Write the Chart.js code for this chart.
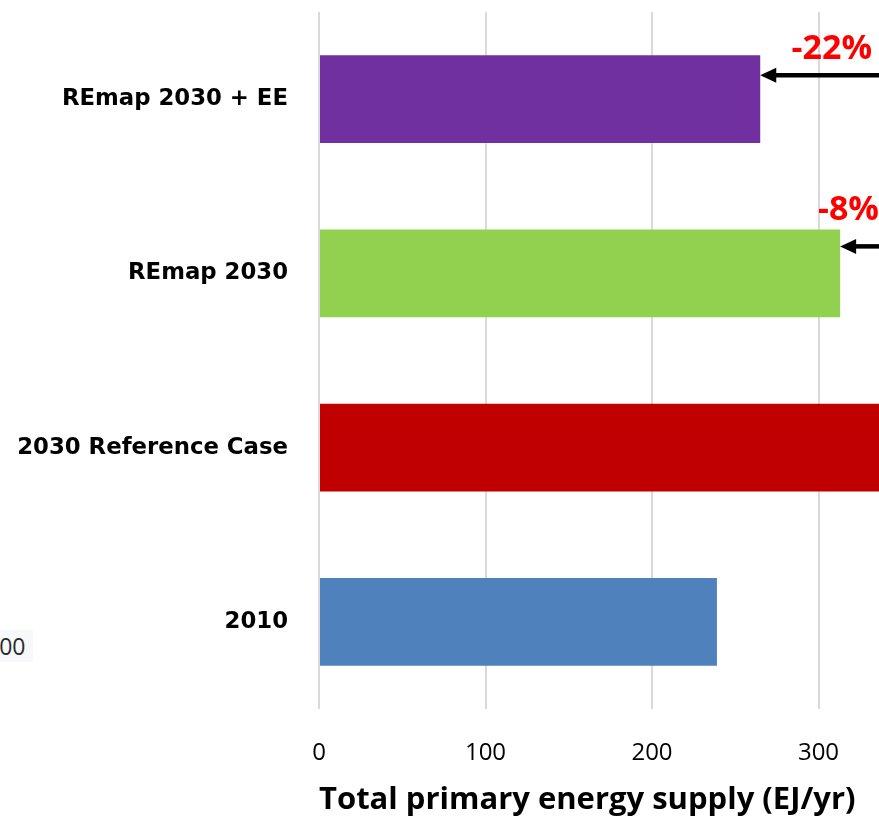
<!DOCTYPE html>
<html>
<head>
<meta charset="utf-8">
<script src="https://cdn.jsdelivr.net/npm/chart.js@4/dist/chart.umd.min.js"></script>
<style>
  html, body { margin: 0; padding: 0; background: #ffffff; overflow: hidden; width: 879px; height: 819px; }
  #wrap { position: absolute; left: 0; top: 0; width: 1020px; height: 819px; }
  #side { position: absolute; left: -14px; top: 630px; font-family: "Open Sans", sans-serif; font-size: 23px; color: #2b2b2b; background: #f6f8fa; padding: 0 8px 0 0; line-height: 32px; }
</style>
</head>
<body>
<div id="side">200</div>
<div id="wrap"><canvas id="c" width="1020" height="819"></canvas></div>
<script>
const categories = ["REmap 2030 + EE", "REmap 2030", "2030 Reference Case", "2010"];
const supplyValues = [265, 313, 340, 239];
const barColors = ["#7030A0", "#92D050", "#C00000", "#4F81BD"];
const xTicks = [0, 100, 200, 300, 400];
const axisTitle = "Total primary energy supply (EJ/yr)";
const changeLabels = ["-22%", "-8%"];
const changeFrom = [340, 340];
const changeTo = [265, 313];
const changeLabelX = [308, 318];

const annotations = [
  { cat: 0, arrowDy: -24, labelDy: -50 },
  { cat: 1, arrowDy: -27, labelDy: -63 }
];

const arrowPlugin = {
  id: 'arrows',
  afterDraw(chart) {
    const ctx = chart.ctx;
    const xs = chart.scales.x, ys = chart.scales.y;
    annotations.forEach((a, i) => {
      const yc = ys.getPixelForValue(a.cat);
      const y = yc + a.arrowDy;
      const x0 = xs.getPixelForValue(changeFrom[i]);
      const x1 = xs.getPixelForValue(changeTo[i]);
      ctx.save();
      ctx.strokeStyle = '#000000';
      ctx.fillStyle = '#000000';
      ctx.lineWidth = 4.5;
      ctx.beginPath();
      ctx.moveTo(x0, y);
      ctx.lineTo(x1 + 14, y);
      ctx.stroke();
      ctx.beginPath();
      ctx.moveTo(x1, y);
      ctx.lineTo(x1 + 16, y - 7.5);
      ctx.lineTo(x1 + 16, y + 7.5);
      ctx.closePath();
      ctx.fill();
      ctx.fillStyle = '#FF0000';
      ctx.font = 'bold 34px "Open Sans", sans-serif';
      ctx.textAlign = 'center';
      ctx.textBaseline = 'middle';
      ctx.fillText(changeLabels[i], xs.getPixelForValue(changeLabelX[i]), yc + a.labelDy);
      ctx.restore();
    });
  }
};

new Chart(document.getElementById('c'), {
  type: 'bar',
  data: {
    labels: categories,
    datasets: [{
      data: supplyValues,
      backgroundColor: barColors,
      borderWidth: 0,
      categoryPercentage: 1.0,
      barPercentage: 0.505
    }]
  },
  options: {
    indexAxis: 'y',
    responsive: false,
    animation: false,
    devicePixelRatio: 1,
    layout: { padding: { top: 12, right: 35, bottom: 0, left: 0 } },
    plugins: { legend: { display: false }, tooltip: { enabled: false } },
    scales: {
      x: {
        type: 'linear',
        min: 0,
        max: 400,
        afterBuildTicks(axis) { axis.ticks = xTicks.map(v => ({ value: v })); },
        afterFit(axis) { axis.height = 110; axis.paddingLeft = 0; axis.paddingRight = 0; },
        grid: { display: true, color: '#d9d9d9', lineWidth: 2, drawTicks: false },
        border: { display: false },
        ticks: {
          padding: 30,
          color: '#000000',
          font: { family: '"Open Sans", sans-serif', size: 24 }
        },
        title: {
          display: true,
          text: axisTitle,
          align: 'start',
          color: '#000000',
          font: { family: '"Open Sans", sans-serif', size: 31, weight: 'bold' },
          padding: { top: 0, bottom: 0 }
        }
      },
      y: {
        afterFit(axis) { axis.width = 319; axis.paddingTop = 0; axis.paddingBottom = 0; },
        grid: { display: false, drawTicks: false },
        border: { display: false },
        ticks: {
          padding: 31,
          color: '#000000',
          font: { family: '"DejaVu Sans", sans-serif', size: 22.8, weight: 'bold' }
        }
      }
    }
  },
  plugins: [arrowPlugin]
});
</script>
</body>
</html>
